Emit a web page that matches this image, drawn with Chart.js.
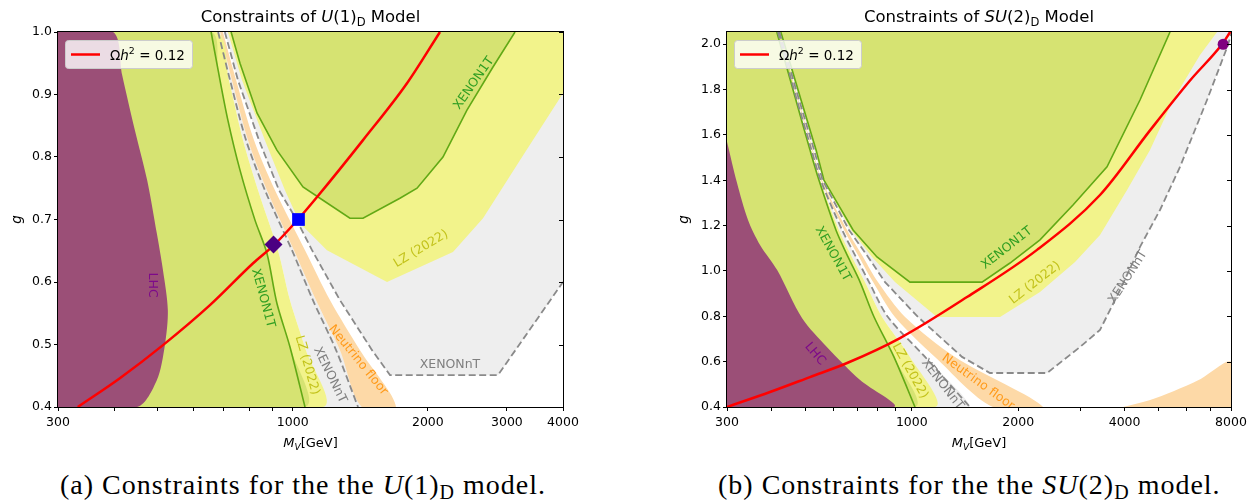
<!DOCTYPE html>
<html>
<head>
<meta charset="utf-8">
<script src="https://cdn.jsdelivr.net/npm/chart.js@4/dist/chart.umd.min.js"></script>
<style>
  body { margin: 0; background: #fff; width: 1256px; height: 500px; overflow: hidden; position: relative; }
  canvas { position: absolute; top: 0; }
  #u1 { left: 0; }
  #su2 { left: 628px; }
  .cap { position: absolute; top: 469px; font-family: "Liberation Serif", serif; font-size: 28px; color: #000; white-space: nowrap; letter-spacing: 1px; }
  .cap sub { font-size: 20px; vertical-align: -5px; line-height: 0; }
</style>
</head>
<body>
<canvas id="u1" width="620" height="460"></canvas>
<canvas id="su2" width="628" height="460"></canvas>
<div class="cap" style="left:60px">(a) Constraints for the the <i>U</i>(1)<sub>D</sub> model.</div>
<div class="cap" style="left:718px">(b) Constraints for the the <i>SU</i>(2)<sub>D</sub> model.</div>
<script>
// ---------- U(1)_D panel: points are [M_V in GeV, g] ----------
const U1_MASS_TICKS = [300, 400, 500, 600, 700, 800, 900, 1000, 2000, 3000, 4000];
const U1_MASS_LABELS = [300, 1000, 2000, 3000, 4000];
const U1_G_TICKS = [0.4, 0.5, 0.6, 0.7, 0.8, 0.9, 1.0];

const U1_LHC = [[300, 1.0], [398, 1.0], [417, 0.931], [445, 0.843], [474, 0.763], [498, 0.678], [514, 0.619],
  [527, 0.555], [519, 0.499], [498, 0.443], [450, 0.4], [300, 0.4]];
const U1_X1T_EDGE = [[658, 1.0], [682, 0.939], [717, 0.859], [763, 0.779], [824, 0.699], [876, 0.646],
  [922, 0.566], [986, 0.496], [1065, 0.4]];
const U1_X1T_U = [[729, 1.0], [763, 0.95], [833, 0.87], [922, 0.811], [1054, 0.752], [1150, 0.734], [1341, 0.702],
  [1434, 0.702], [1733, 0.734], [1892, 0.75], [2161, 0.8], [2444, 0.875], [2793, 0.944], [3127, 1.0]];
const U1_LZ_EDGE = [[675, 1.0], [721, 0.923], [775, 0.827], [837, 0.747], [927, 0.651], [986, 0.571],
  [1070, 0.491], [1168, 0.4]];
const U1_LZ_U = [[717, 1.0], [771, 0.923], [867, 0.827], [961, 0.747], [1038, 0.694], [1192, 0.651], [1622, 0.6],
  [2275, 0.648], [2654, 0.702], [3208, 0.795], [4000, 0.902]];
const U1_NT_A = [[682, 1.0], [725, 0.923], [787, 0.827], [867, 0.747], [996, 0.651], [1109, 0.571],
  [1249, 0.491], [1398, 0.4]];
const U1_NT_B = [[706, 1.0], [755, 0.923], [841, 0.827], [932, 0.747], [1017, 0.701], [1104, 0.651],
  [1274, 0.571], [1502, 0.491], [1647, 0.451], [2866, 0.451], [4000, 0.6]];
const U1_NU_LO = [[689, 1.0], [732, 0.923], [795, 0.827], [876, 0.747], [1006, 0.651], [1127, 0.571],
  [1274, 0.491], [1426, 0.4]];
const U1_NU_HI = [[699, 1.0], [748, 0.923], [820, 0.827], [913, 0.747], [1065, 0.651], [1211, 0.571],
  [1412, 0.491], [1698, 0.4]];
const U1_RELIC = [[332, 0.4], [412, 0.446], [514, 0.499], [654, 0.563], [816, 0.63], [908, 0.659],
  [1027, 0.7], [1133, 0.736], [1434, 0.827], [1797, 0.918], [2128, 1.0]];
const U1_BENCH_A = [[906, 0.66]];
const U1_BENCH_B = [[1030, 0.70]];

// ---------- SU(2)_D panel ----------
const SU2_MASS_TICKS = [300, 400, 500, 600, 700, 800, 900, 1000, 2000, 3000, 4000, 5000, 6000, 7000, 8000];
const SU2_MASS_LABELS = [300, 1000, 2000, 4000, 8000];
const SU2_G_TICKS = [0.4, 0.6, 0.8, 1.0, 1.2, 1.4, 1.6, 1.8, 2.0];

const SU2_LHC = [[300, 1.57], [320, 1.39], [344, 1.225], [372, 1.115], [416, 1.004], [490, 0.79], [575, 0.665],
  [714, 0.519], [890, 0.4], [300, 0.4]];
const SU2_X1T_EDGE = [[415, 2.054], [470, 1.754], [515, 1.534], [546, 1.401], [610, 1.181], [660, 1.062],
  [714, 0.951], [782, 0.797], [890, 0.621], [1021, 0.4]];
const SU2_LZ_EDGE = [[417, 2.054], [471, 1.754], [519, 1.534], [550, 1.401], [622, 1.181], [677, 1.062],
  [737, 0.951], [824, 0.797], [988, 0.621], [1163, 0.4]];
const SU2_NT_A = [[418, 2.054], [473, 1.754], [520, 1.534], [552, 1.401], [635, 1.181], [695, 1.062],
  [757, 0.951], [856, 0.797], [1090, 0.621], [1461, 0.4]];
const SU2_NU_LO = [[420, 2.054], [475, 1.754], [522, 1.534], [553, 1.401], [643, 1.181], [709, 1.062],
  [777, 0.951], [896, 0.797], [1163, 0.621], [1697, 0.4]];
const SU2_NU_HI = [[421, 2.054], [478, 1.754], [525, 1.534], [557, 1.401], [656, 1.181], [728, 1.062],
  [802, 0.951], [957, 0.797], [1325, 0.621], [2351, 0.4]];
const SU2_NU_TAIL = [[3960, 0.4], [4700, 0.43], [5500, 0.47], [6500, 0.52], [8000, 0.6], [8000, 0.4]];
const SU2_NT_B = [[422, 2.054], [480, 1.754], [529, 1.534], [559, 1.401], [664, 1.181], [752, 1.062],
  [840, 0.951], [1041, 0.797], [1387, 0.621], [1664, 0.55], [2413, 0.55], [2992, 0.665], [3408, 0.74],
  [3882, 0.916], [4422, 1.106], [5037, 1.269], [5739, 1.459], [6843, 1.754], [7846, 1.997], [8050, 2.06]];
const SU2_LZ_U = [[424, 2.054], [483, 1.754], [532, 1.534], [561, 1.401], [673, 1.181], [772, 1.062],
  [896, 0.951], [1178, 0.797], [1777, 0.797], [2305, 0.907], [2896, 1.04], [3408, 1.159], [4064, 1.357],
  [4720, 1.534], [5484, 1.754], [6537, 1.953], [7306, 2.054]];
const SU2_X1T_U = [[426, 2.054], [486, 1.754], [536, 1.534], [564, 1.401], [682, 1.181], [797, 1.062],
  [988, 0.951], [1580, 0.951], [1896, 1.035], [2305, 1.137], [2858, 1.291], [3567, 1.459], [4422, 1.754],
  [5377, 2.054]];
const SU2_RELIC = [[300, 0.4], [397, 0.466], [515, 0.532], [656, 0.594], [926, 0.704], [1433, 0.885],
  [2261, 1.093], [3408, 1.335], [4720, 1.62], [6126, 1.84], [7545, 2.0], [8000, 2.06]];
const SU2_BENCH = [[7600, 2.0]];

// ---------- colours ----------
const C_LHC = '#9b4f77', C_X1T = '#d6e372', C_LZ = '#f2f38b', C_NT = '#eeeeee', C_NU = '#fdd9a7';
const C_X1T_LINE = '#62a915', C_NT_LINE = '#8a8a8a', C_RELIC = '#ff0000';
const FONT = '"DejaVu Sans", sans-serif';
const SMOOTH = 0.3;

const pts = arr => arr.map(([x, y]) => ({ x, y }));
const rev = arr => arr.slice().reverse();
const area = (arr, color, order, tension = 0) => ({ data: pts(arr), showLine: true, fill: 'shape',
  backgroundColor: color, borderColor: 'rgba(0,0,0,0)', borderWidth: 0, pointRadius: 0, tension, order });
const curve = (arr, color, width, dash, order, tension = 0) => ({ data: pts(arr), showLine: true, fill: false,
  borderColor: color, borderWidth: width, borderDash: dash, pointRadius: 0, tension, order });
const relic = (arr) => ({ data: pts(arr), showLine: true, fill: false, borderColor: C_RELIC, borderWidth: 2.5,
  pointRadius: 0, cubicInterpolationMode: 'monotone', order: 5 });
const marker = (arr, style, r, color) => ({ data: pts(arr), showLine: false, pointStyle: style,
  pointRadius: r, backgroundColor: color, borderColor: color, borderWidth: 0, order: 0 });

// rich text: parts [{t, it, sub, sup}]
function partFont(p, size) {
  const s = (p.sub || p.sup) ? size * 0.7 : size;
  return (p.it ? 'italic ' : '') + s + 'px ' + FONT;
}
function drawRich(ctx, parts, x, y, size, align) {
  let w = 0;
  for (const p of parts) { ctx.font = partFont(p, size); w += ctx.measureText(p.t).width; }
  let cx = align === 'center' ? x - w / 2 : x;
  ctx.textAlign = 'left';
  ctx.textBaseline = 'alphabetic';
  for (const p of parts) {
    ctx.font = partFont(p, size);
    const dy = p.sub ? size * 0.22 : p.sup ? -size * 0.4 : 0;
    ctx.fillText(p.t, cx, y + dy);
    cx += ctx.measureText(p.t).width;
  }
}

const LEGEND_PARTS = [{ t: 'Ω' }, { t: 'h', it: true }, { t: '2', sup: true }, { t: ' = 0.12' }];
const XLABEL_PARTS = [{ t: 'M', it: true }, { t: 'V', it: true, sub: true }, { t: '[GeV]' }];

function decor(spec) {
  return {
    id: 'decor',
    afterDraw(chart) {
      const { ctx, chartArea: a, scales: { x, y } } = chart;
      ctx.save();
      // annotations
      for (const n of spec.notes) {
        ctx.save();
        ctx.translate(x.getPixelForValue(n.m), y.getPixelForValue(n.g));
        ctx.rotate(n.a * Math.PI / 180);
        ctx.font = '12.5px ' + FONT;
        ctx.fillStyle = n.c;
        ctx.textAlign = 'center';
        ctx.textBaseline = 'middle';
        ctx.fillText(n.t, 0, 0);
        ctx.restore();
      }
      // frame + inward ticks on the right spine
      ctx.strokeStyle = '#000';
      ctx.lineWidth = 1;
      ctx.strokeRect(a.left - 0.5, a.top - 0.5, a.right - a.left + 1, a.bottom - a.top + 1);
      ctx.beginPath();
      for (const t of y.ticks) {
        const py = Math.round(y.getPixelForValue(t.value)) + 0.5;
        ctx.moveTo(a.right - 4, py);
        ctx.lineTo(a.right, py);
      }
      ctx.stroke();
      // legend
      const lx = a.left + 7, ly = a.top + 8;
      ctx.fillStyle = 'rgba(255,255,255,0.8)';
      ctx.strokeStyle = '#cccccc';
      ctx.beginPath();
      ctx.roundRect(lx + 0.5, ly + 0.5, 127, 28, 3);
      ctx.fill();
      ctx.stroke();
      ctx.strokeStyle = C_RELIC;
      ctx.lineWidth = 2.5;
      ctx.beginPath();
      ctx.moveTo(lx + 6, ly + 14.5);
      ctx.lineTo(lx + 35, ly + 14.5);
      ctx.stroke();
      ctx.fillStyle = '#000';
      drawRich(ctx, LEGEND_PARTS, lx + 45, ly + 19.5, 13.5);
      // titles
      const cx = (a.left + a.right) / 2;
      drawRich(ctx, spec.title, cx, 22, 16.5, 'center');
      drawRich(ctx, XLABEL_PARTS, cx, 447, 13, 'center');
      ctx.save();
      ctx.translate(spec.gx, (a.top + a.bottom) / 2);
      ctx.rotate(-Math.PI / 2);
      drawRich(ctx, [{ t: 'g', it: true }], 0, 5, 13.5, 'center');
      ctx.restore();
      ctx.restore();
    }
  };
}

function makePanel(id, spec) {
  const tickFont = { family: FONT, size: 12.5 };
  const grid = { display: true, drawOnChartArea: false, drawTicks: true, tickLength: 4, tickColor: '#000', tickWidth: 1 };
  new Chart(document.getElementById(id), {
    type: 'scatter',
    data: { datasets: spec.datasets },
    options: {
      responsive: false, animation: false, events: [], devicePixelRatio: 1,
      layout: { autoPadding: false, padding: { left: 0, top: 32, right: spec.padRight, bottom: 0 } },
      plugins: { legend: { display: false }, tooltip: { enabled: false } },
      scales: {
        x: {
          type: 'logarithmic', min: spec.xMin, max: spec.xMax,
          afterBuildTicks: s => { s.ticks = spec.xTicks.map(v => ({ value: v })); },
          afterFit: s => { s.height = 53; },
          ticks: { autoSkip: false, maxRotation: 0, padding: 4, color: '#000', font: tickFont,
            callback: v => spec.xLabels.includes(v) ? String(v) : '' },
          grid, border: { display: false }
        },
        y: {
          type: 'linear', min: spec.yMin, max: spec.yMax,
          afterBuildTicks: s => { s.ticks = spec.yTicks.map(v => ({ value: v })); },
          afterFit: s => { s.width = spec.yWidth; },
          ticks: { padding: 2, color: '#000', font: tickFont, callback: v => v.toFixed(1) },
          grid, border: { display: false }
        }
      }
    },
    plugins: [decor(spec)]
  });
}

const GREEN_TXT = '#2f9e22', OLIVE_TXT = '#c2c21a', GREY_TXT = '#7f7f7f', ORANGE_TXT = '#ff9a1a', PURPLE_TXT = '#7d0a8a';

makePanel('u1', {
  xMin: 300, xMax: 4000, yMin: 0.4, yMax: 1.0, padRight: 57, yWidth: 58, gx: 16,
  xTicks: U1_MASS_TICKS, xLabels: U1_MASS_LABELS, yTicks: U1_G_TICKS,
  title: [{ t: 'Constraints of ' }, { t: 'U', it: true }, { t: '(1)' }, { t: 'D', sub: true }, { t: ' Model' }],
  datasets: [
    area([...U1_NT_B, [4000, 1.0]], C_NT, 30),
    area([...U1_LZ_EDGE, ...rev(U1_NU_LO)], C_NT, 29, SMOOTH),
    area([...U1_NU_LO, ...rev(U1_NU_HI)], C_NU, 28, SMOOTH),
    area([[300, 1.0], ...U1_LZ_EDGE, [300, 0.4]], C_LZ, 27, SMOOTH),
    area([...U1_LZ_U, [4000, 1.0]], C_LZ, 26),
    area([[300, 1.0], ...U1_X1T_EDGE, [300, 0.4]], C_X1T, 25, SMOOTH),
    area(U1_X1T_U, C_X1T, 24),
    area(U1_LHC, C_LHC, 23, SMOOTH),
    curve(U1_X1T_EDGE, C_X1T_LINE, 1.6, [], 13, SMOOTH),
    curve(U1_X1T_U, C_X1T_LINE, 1.6, [], 12),
    curve(U1_NT_A, C_NT_LINE, 1.8, [7, 3.5], 11, SMOOTH),
    curve(U1_NT_B, C_NT_LINE, 1.8, [7, 3.5], 10),
    relic(U1_RELIC),
    marker(U1_BENCH_A, 'rectRot', 9, '#4b0082'),
    marker(U1_BENCH_B, 'rect', 9, '#0000ff')
  ],
  notes: [
    { t: 'LHC', m: 486, g: 0.595, a: 90, c: PURPLE_TXT },
    { t: 'XENON1T', m: 859, g: 0.574, a: 75, c: GREEN_TXT },
    { t: 'LZ (2022)', m: 1076, g: 0.467, a: 74, c: OLIVE_TXT },
    { t: 'XENONnT', m: 1211, g: 0.451, a: 64, c: GREY_TXT },
    { t: 'Neutrino floor', m: 1398, g: 0.475, a: 51, c: ORANGE_TXT },
    { t: 'XENONnT', m: 2240, g: 0.467, a: 0, c: GREY_TXT },
    { t: 'LZ (2022)', m: 1931, g: 0.653, a: -31, c: OLIVE_TXT },
    { t: 'XENON1T', m: 2534, g: 0.918, a: -55, c: GREEN_TXT }
  ]
});

makePanel('su2', {
  xMin: 300, xMax: 8000, yMin: 0.4, yMax: 2.054, padRight: 25, yWidth: 99, gx: 55,
  xTicks: SU2_MASS_TICKS, xLabels: SU2_MASS_LABELS, yTicks: SU2_G_TICKS,
  title: [{ t: 'Constraints of ' }, { t: 'SU', it: true }, { t: '(2)' }, { t: 'D', sub: true }, { t: ' Model' }],
  datasets: [
    area([...SU2_NT_B], C_NT, 30),
    area([...SU2_LZ_EDGE, ...rev(SU2_NT_A)], C_NT, 29, SMOOTH),
    area([...SU2_NU_LO, ...rev(SU2_NU_HI)], C_NU, 28, SMOOTH),
    area(SU2_NU_TAIL, C_NU, 28, SMOOTH),
    area([[300, 2.06], ...SU2_LZ_EDGE, [300, 0.4]], C_LZ, 27, SMOOTH),
    area(SU2_LZ_U, C_LZ, 26),
    area([[300, 2.06], ...SU2_X1T_EDGE, [300, 0.4]], C_X1T, 25, SMOOTH),
    area(SU2_X1T_U, C_X1T, 24),
    area(SU2_LHC, C_LHC, 23, SMOOTH),
    curve(SU2_X1T_EDGE, C_X1T_LINE, 1.6, [], 13, SMOOTH),
    curve(SU2_X1T_U, C_X1T_LINE, 1.6, [], 12),
    curve(SU2_NT_A, C_NT_LINE, 1.8, [7, 3.5], 11, SMOOTH),
    curve(SU2_NT_B, C_NT_LINE, 1.8, [7, 3.5], 10),
    relic(SU2_RELIC),
    marker(SU2_BENCH, 'circle', 5.5, '#800080')
  ],
  notes: [
    { t: 'LHC', m: 532, g: 0.634, a: 50, c: PURPLE_TXT },
    { t: 'XENON1T', m: 598, g: 1.075, a: 61, c: GREEN_TXT },
    { t: 'LZ (2022)', m: 988, g: 0.559, a: 61, c: OLIVE_TXT },
    { t: 'XENONnT', m: 1220, g: 0.50, a: 52, c: GREY_TXT },
    { t: 'Neutrino floor', m: 1539, g: 0.51, a: 36, c: ORANGE_TXT },
    { t: 'XENON1T', m: 1859, g: 1.101, a: -38, c: GREEN_TXT },
    { t: 'LZ (2022)', m: 2231, g: 0.947, a: -38, c: OLIVE_TXT },
    { t: 'XENONnT', m: 4090, g: 0.973, a: -57, c: GREY_TXT }
  ]
});
</script>
</body>
</html>
